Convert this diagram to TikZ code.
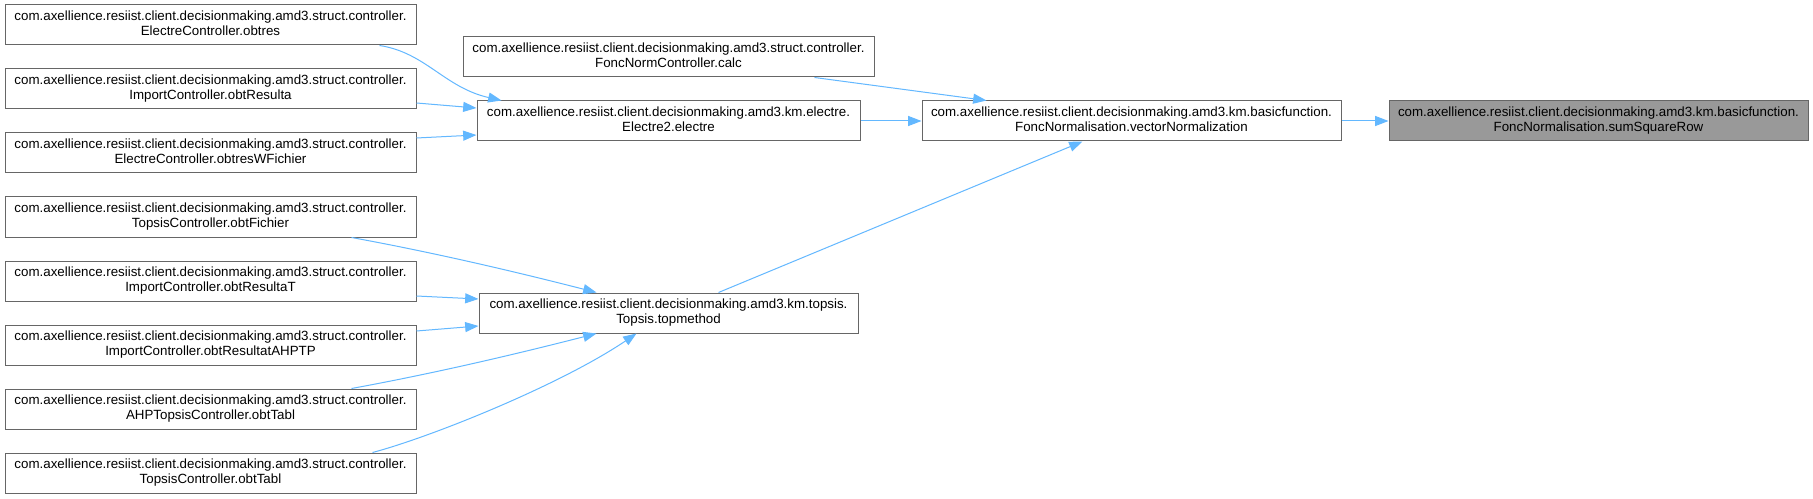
\documentclass[tikz,border=0pt]{standalone}
\usepackage{fontspec}
\setmainfont{Liberation Sans}
\usetikzlibrary{arrows.meta,calc}
\definecolor{edgeblue}{HTML}{63B8FF}
\definecolor{boxborder}{HTML}{666666}
\definecolor{boxgray}{HTML}{999999}
\newcommand\twol[2]{\strut #1\\\strut #2}
\begin{document}
\begin{tikzpicture}[x=0.75pt,y=-0.75pt,
  fn/.style={draw=boxborder, line width=0.75pt, fill=white, inner sep=0pt, align=center,
    font=\fontsize{10}{11}\selectfont, minimum height=30pt},
  bw/.style={minimum width=#1*0.75pt},
  focus/.style={fill=boxgray},
  call/.style={draw=edgeblue, line width=0.75pt, -{Triangle[length=10pt,width=7.5pt]}}]
\fill[white] (0,0) rectangle (1813,499);
\useasboundingbox (0,0) rectangle (1813,499);

\def\pk{com.axellience.resiist.client.decisionmaking.amd3.struct.controller.}
\node[fn,bw=411] (A1) at (210.5,25)  {\twol{\pk}{ElectreController.obtres}};
\node[fn,bw=411] (A2) at (210.5,89)  {\twol{\pk}{ImportController.obtResulta}};
\node[fn,bw=411] (A3) at (210.5,153) {\twol{\pk}{ElectreController.obtresWFichier}};
\node[fn,bw=411] (B1) at (210.5,217) {\twol{\pk}{TopsisController.obtFichier}};
\node[fn,bw=411] (B2) at (210.5,281) {\twol{\pk}{ImportController.obtResultaT}};
\node[fn,bw=411] (B3) at (210.5,345) {\twol{\pk}{ImportController.obtResultatAHPTP}};
\node[fn,bw=411] (B4) at (210.5,409) {\twol{\pk}{AHPTopsisController.obtTabl}};
\node[fn,bw=411] (B5) at (210.5,473) {\twol{\pk}{TopsisController.obtTabl}};

\node[fn,bw=411] (C) at (668.5,57) {\twol{\pk}{FoncNormController.calc}};
\node[fn,bw=383] (E) at (668.5,121) {\twol{com.axellience.resiist.client.decisionmaking.amd3.km.electre.}{Electre2.electre}};
\node[fn,bw=379] (T) at (668.5,313) {\twol{com.axellience.resiist.client.decisionmaking.amd3.km.topsis.}{Topsis.topmethod}};
\node[fn,bw=419] (V) at (1131.5,121) {\twol{com.axellience.resiist.client.decisionmaking.amd3.km.basicfunction.}{FoncNormalisation.vectorNormalization}};
\node[fn,focus,bw=419] (S) at (1598.5,121) {\twol{com.axellience.resiist.client.decisionmaking.amd3.km.basicfunction.}{FoncNormalisation.sumSquareRow}};

\draw[call] ($(A1.south east)+(-37,0)$) .. controls +(46,7) and +(-57,-13) .. ($(E.north west)+(25,0)$);
\draw[call] ($(A2.east)+(0,14)$) -- ($(E.west)+(0,-13)$);
\draw[call] ($(A3.east)+(0,-15)$) -- ($(E.west)+(0,14)$);
\draw[call] ($(C.south west)+(352,0)$) -- ($(V.north west)+(65,0)$);
\draw[call] (E.east) -- (V.west);
\draw[call] (V.east) -- (S.west);
\draw[call] ($(T.north west)+(240,0)$) -- ($(V.south west)+(161,0)$);
\draw[call] ($(B1.south west)+(347,0)$) .. controls +(82,15) and +(-82,-21) .. ($(T.north west)+(118,0)$);
\draw[call] ($(B2.east)+(0,15)$) -- ($(T.west)+(0,-14)$);
\draw[call] ($(B3.east)+(0,-14)$) -- ($(T.west)+(0,13)$);
\draw[call] ($(B4.north west)+(347,0)$) .. controls +(82,-15) and +(-82,21) .. ($(T.south west)+(118,0)$);
\draw[call] ($(B5.north west)+(368,0)$) .. controls +(57,-15) and +(-77,52) .. ($(T.south west)+(158,0)$);
\end{tikzpicture}
\end{document}
